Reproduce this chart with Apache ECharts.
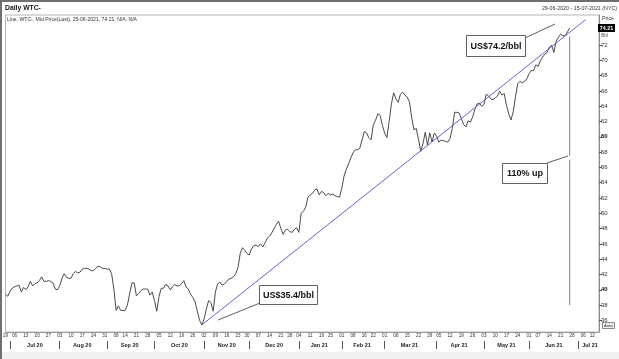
<!DOCTYPE html>
<html><head><meta charset="utf-8">
<script src="https://cdn.jsdelivr.net/npm/echarts@6/dist/echarts.min.js"></script>
<style>html,body{margin:0;padding:0;background:#fff}#c{width:619px;height:359px}</style>
</head><body><div id="c"></div>
<script>
// ---- data ----
const startDate = '2020-06-29';
const endDate = '2021-07-15';
const holidays = ['2020-07-03','2020-09-07','2020-11-26','2020-12-25','2021-01-01','2021-01-18','2021-02-15','2021-04-02','2021-05-31','2021-07-05'];
// daily mid price (USD/bbl), one per trading day from 2020-06-29 to 2021-06-25
const prices = [
39.4,39.15,39.8,40.2,40.4,40.5,40.6,39.7,40.3,40.0,
40.4,41.1,40.5,40.8,40.9,41.2,41.7,41.1,41.1,41.2,
41.1,40.9,40.1,40.0,40.5,41.5,42.1,41.6,41.5,41.5,
42.1,42.4,42.2,42.3,42.7,42.8,42.8,42.7,42.5,42.5,
42.8,43.1,43.0,42.8,42.8,42.7,42.7,42.1,40.1,37.3,
37.9,37.3,37.3,37.3,38.0,39.5,40.9,40.9,39.2,39.5,
39.9,40.1,40.1,40.1,39.3,39.7,38.6,37.2,39.1,40.2,
40.2,40.7,40.5,40.0,40.4,40.7,40.5,40.5,40.8,41.2,
40.35,40.1,39.4,39.0,38.4,37.2,36.0,35.4,36.2,37.5,
38.6,38.3,37.2,39.7,40.8,41.0,40.6,40.75,41.05,41.4,
41.5,41.7,42.1,42.9,44.75,45.5,45.15,44.75,44.55,45.35,
45.75,45.85,45.65,46.0,45.6,46.15,46.75,47.0,47.45,48.0,
48.55,48.95,48.05,47.25,47.8,47.9,47.6,47.5,47.9,48.1,
47.5,50.0,50.25,50.8,52.1,52.4,52.6,53.05,53.2,52.4,
52.85,52.7,52.3,52.6,52.4,52.5,52.3,52.2,52.1,53.25,
54.85,55.75,56.45,57.25,57.9,58.3,58.3,58.5,59.6,60.7,
60.5,59.9,59.6,61.6,62.2,63.0,62.8,61.5,60.5,59.9,
62.0,64.3,65.75,64.95,64.5,65.55,65.85,65.45,65.2,64.55,
62.5,60.9,61.1,59.7,58.1,59.1,60.6,58.9,60.5,59.3,
60.5,60.1,59.3,59.55,59.5,59.4,59.3,59.8,61.1,63.2,
63.2,63.1,62.4,61.6,61.3,62.1,61.9,62.6,63.6,64.3,
64.4,64.0,64.2,65.55,65.35,64.95,64.85,65.05,65.35,65.95,
65.45,65.65,64.1,63.0,62.2,63.3,65.25,66.95,67.25,67.05,
67.25,67.55,68.25,68.65,68.65,69.4,69.2,69.9,70.4,70.8,
71.0,71.7,72.0,71.0,72.5,73.0,73.4,73.2,73.2,73.7,
74.21];
const trendLine = [['2020-10-30', 35.4], ['2021-07-07', 75.3]];
const upLineUpper = [['2021-06-25', 73.1], ['2021-06-25', 57.5]];
const upLineLower = [['2021-06-25', 57.0], ['2021-06-25', 38.0]];
const yTicks = [36,38,40,42,44,46,48,50,52,54,56,58,60,62,64,66,68,70,72];
const boldTicks = [40, 60];
const monthNames = ['Jan','Feb','Mar','Apr','May','Jun','Jul','Aug','Sep','Oct','Nov','Dec'];
const lastPrice = '74.21';

// ---- trading-day categories ----
const hol = new Set(holidays);
const tradingDays = [];
for (let d = new Date(startDate + 'T00:00:00Z'); d <= new Date(endDate + 'T00:00:00Z'); d.setUTCDate(d.getUTCDate() + 1)) {
  const wd = d.getUTCDay();
  const s = d.toISOString().slice(0, 10);
  if (wd === 0 || wd === 6 || hol.has(s)) continue;
  tradingDays.push(s);
}
const weekStart = new Set();
const monthStart = new Set();
const monthCenter = new Set();
const spans = {};
tradingDays.forEach((s, i) => {
  const d = new Date(s + 'T00:00:00Z');
  if (i === 0) weekStart.add(i);
  else {
    const p = new Date(tradingDays[i - 1] + 'T00:00:00Z');
    if (d.getUTCDay() < p.getUTCDay() || (d - p) > 4 * 864e5) weekStart.add(i);
    if (s.slice(5, 7) !== tradingDays[i - 1].slice(5, 7)) monthStart.add(i);
  }
  const k = s.slice(0, 7);
  if (!spans[k]) spans[k] = [i, i]; else spans[k][1] = i;
});
Object.keys(spans).forEach(k => {
  const [a, b] = spans[k];
  if (b - a >= 4) monthCenter.add(Math.round((a + b) / 2));
});
const monthLabel = s => monthNames[+s.slice(5, 7) - 1] + ' ' + s.slice(2, 4);

const F = '"Liberation Sans", Arial, sans-serif';
const chart = echarts.init(document.getElementById('c'));

function box(x, y, w, h, text) {
  return {
    type: 'group', z: 100, children: [
      { type: 'rect', shape: { x: x + 0.5, y: y + 0.5, width: w, height: h }, style: { fill: '#fff', stroke: '#5f5f5f', lineWidth: 1 } },
      { type: 'text', style: { x: x + w / 2 + 0.5, y: y + h / 2 + 1, text: text, font: 'bold 9px ' + F, fill: '#111', align: 'center', verticalAlign: 'middle' } }
    ]
  };
}
function seg(x1, y1, x2, y2) {
  return { type: 'line', z: 100, shape: { x1, y1, x2, y2 }, style: { stroke: '#5f5f5f', lineWidth: 1 } };
}

chart.setOption({
  animation: false,
  backgroundColor: '#fff',
  grid: { left: 5, right: 20, top: 15, bottom: 27, show: true, borderColor: '#b5b5b5', borderWidth: 1 },
  xAxis: [{
    type: 'category', data: tradingDays, boundaryGap: false,
    axisLine: { lineStyle: { color: '#9a9a9a' } },
    axisTick: { show: false },
    axisLabel: { interval: i => weekStart.has(i), formatter: v => v.slice(8, 10), fontSize: 4.6, color: '#333', margin: 1.5, fontFamily: F }
  }, {
    type: 'category', data: tradingDays, boundaryGap: false, position: 'bottom', offset: 9,
    axisLine: { show: false },
    axisTick: { show: true, interval: i => monthStart.has(i), length: 8, lineStyle: { color: '#555' } },
    axisLabel: { interval: i => monthCenter.has(i), formatter: monthLabel, fontSize: 5.5, fontWeight: 'bold', color: '#222', margin: 1, fontFamily: F }
  }],
  yAxis: {
    type: 'value', position: 'right', min: 34.48, max: 75.92,
    axisLine: { show: true, lineStyle: { color: '#8a8a8a' } },
    axisTick: { show: true, length: 3, customValues: yTicks, lineStyle: { color: '#555' } },
    axisLabel: {
      customValues: yTicks, fontSize: 6, color: '#333', margin: 2, fontFamily: F,
      formatter: v => boldTicks.includes(v) ? '{b|' + v + '}' : String(v),
      rich: { b: { fontWeight: 'bold', fontSize: 6, color: '#111', fontFamily: F } }
    },
    splitLine: { show: false }
  },
  series: [
    { type: 'line', data: prices, symbol: 'none', lineStyle: { color: '#4a4a4a', width: 1 }, z: 3 },
    { type: 'line', data: trendLine, symbol: 'none', lineStyle: { color: '#6464d6', width: 1 }, z: 4 },
    { type: 'line', data: upLineUpper, symbol: 'none', lineStyle: { color: '#7474dc', width: 1 }, z: 4 },
    { type: 'line', data: upLineLower, symbol: 'none', lineStyle: { color: '#7474dc', width: 1 }, z: 4 }
  ],
  graphic: [
    { type: 'rect', z: 50, shape: { x: 0, y: 0, width: 2, height: 359 }, style: { fill: '#6f6f6f' } },
    { type: 'rect', z: 50, shape: { x: 0, y: 0, width: 619, height: 2 }, style: { fill: '#6f6f6f' } },
    { type: 'rect', z: 50, shape: { x: 2, y: 352, width: 617, height: 7 }, style: { fill: '#f0f0f0' } },
    { type: 'text', z: 50, style: { x: 5, y: 8.5, text: 'Daily WTC-', font: 'bold 6.8px ' + F, fill: '#111', verticalAlign: 'middle' } },
    { type: 'text', z: 50, style: { x: 7, y: 19.5, text: 'Line, WTC-, Mid Price(Last), 25-06-2021, 74.21, N/A, N/A', font: '5.1px ' + F, fill: '#333', verticalAlign: 'middle' } },
    { type: 'text', z: 50, style: { x: 617, y: 9, text: '29-06-2020 - 15-07-2021 (NYC)', font: '5.3px ' + F, fill: '#333', align: 'right', verticalAlign: 'middle' } },
    { type: 'text', z: 50, style: { x: 602, y: 18.5, text: 'Price', font: '5.3px ' + F, fill: '#333', verticalAlign: 'middle' } },
    { type: 'rect', z: 60, shape: { x: 598, y: 24, width: 17, height: 8 }, style: { fill: '#000' } },
    { type: 'text', z: 61, style: { x: 606.5, y: 28.3, text: lastPrice, font: 'bold 5.3px ' + F, fill: '#fff', align: 'center', verticalAlign: 'middle' } },
    { type: 'text', z: 50, style: { x: 601, y: 35.5, text: 'Bbl', font: '5px ' + F, fill: '#555', verticalAlign: 'middle' } },
    { type: 'rect', z: 50, shape: { x: 602.5, y: 322.5, width: 12, height: 6 }, style: { fill: '#eeeeee', stroke: '#888', lineWidth: 1 } },
    { type: 'text', z: 51, style: { x: 608.5, y: 325.7, text: 'Auto', font: '4.3px ' + F, fill: '#333', align: 'center', verticalAlign: 'middle' } },
    seg(525, 38, 555, 24),
    seg(260, 303, 218, 320),
    seg(547, 163, 568, 156),
    box(466, 35, 59, 21, 'US$74.2/bbl'),
    box(259, 285, 58, 19, 'US$35.4/bbl'),
    box(502, 163, 45, 20, '110% up')
  ]
});
</script>
</body></html>
